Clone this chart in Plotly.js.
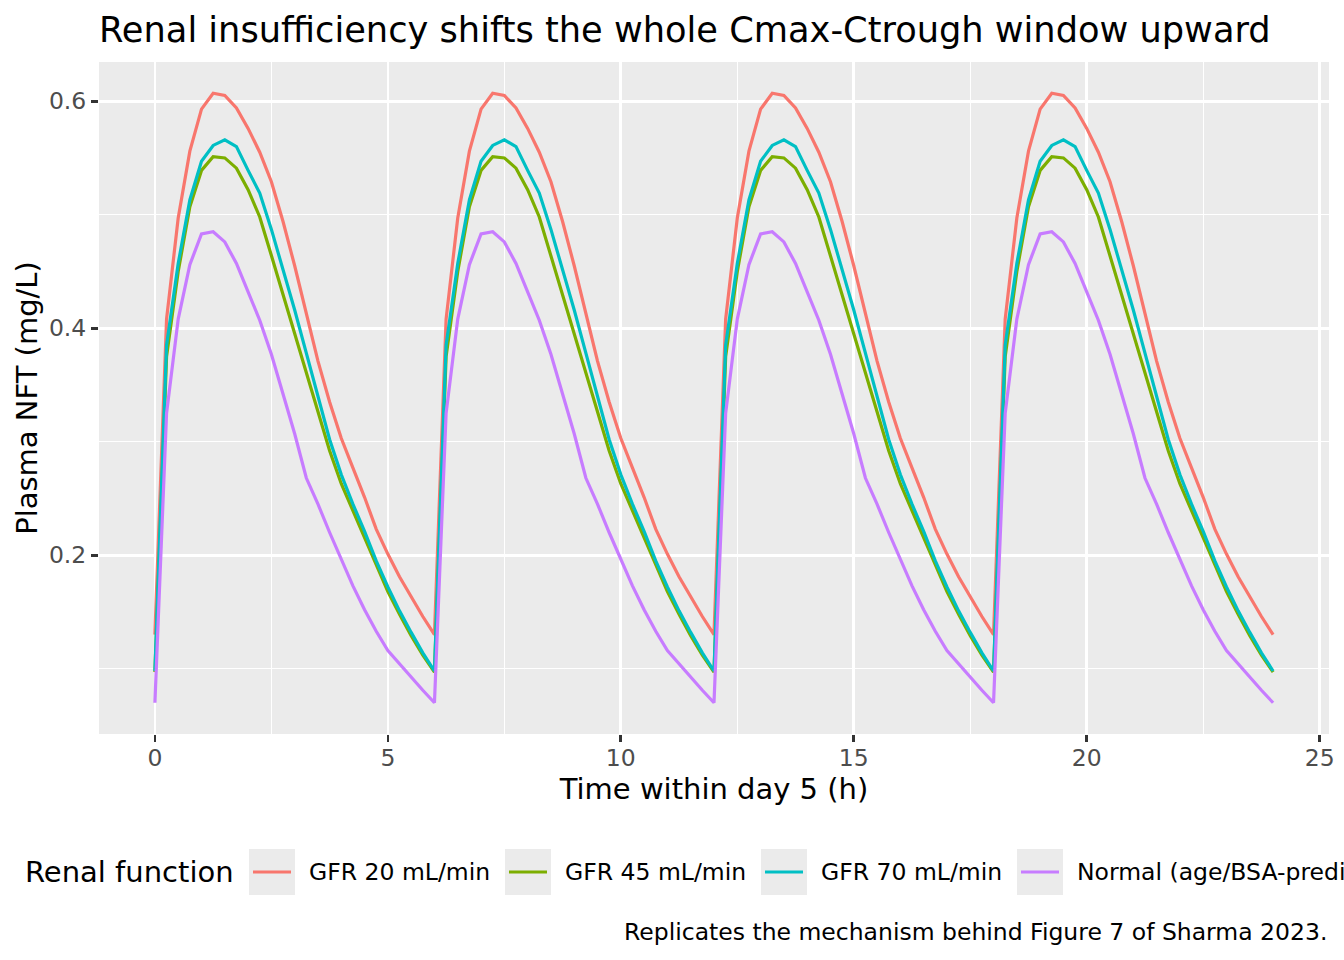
<!DOCTYPE html>
<html>
<head>
<meta charset="utf-8">
<script src="https://cdn.plot.ly/plotly-3.0.1.min.js"></script>
<style>
  html, body { margin: 0; padding: 0; background: #fff; overflow: hidden; }
  #chart { width: 1344px; height: 960px; }
</style>
</head>
<body>
<div id="chart"></div>
<script>
// one dosing interval (q6h), hours after dose
const hoursInDose = [0, 0.25, 0.5, 0.75, 1, 1.25, 1.5, 1.75, 2, 2.25, 2.5, 2.75,
                     3, 3.25, 3.5, 3.75, 4, 4.25, 4.5, 4.75, 5, 5.25, 5.5, 5.75];
const doseTimes = [0, 6, 12, 18];
const dayEnd = 24;

const seriesNames = ['GFR 20 mL/min', 'GFR 45 mL/min', 'GFR 70 mL/min', 'Normal (age/BSA-predicted)'];
const seriesColors = ['#F8766D', '#7CAE00', '#00BFC4', '#C77CFF'];

// plasma NFT (mg/L) over one interval (steady state, same each dose)
const gfr20 = [0.130, 0.408, 0.497, 0.556, 0.593, 0.607, 0.605, 0.594, 0.576, 0.555, 0.529, 0.494,
               0.455, 0.414, 0.371, 0.335, 0.303, 0.277, 0.251, 0.223, 0.201, 0.181, 0.163, 0.146];
const gfr45 = [0.097, 0.375, 0.450, 0.507, 0.539, 0.551, 0.550, 0.541, 0.522, 0.498, 0.464, 0.430,
               0.396, 0.361, 0.326, 0.292, 0.263, 0.239, 0.215, 0.192, 0.168, 0.148, 0.129, 0.112];
const gfr70 = [0.098, 0.385, 0.457, 0.513, 0.547, 0.561, 0.566, 0.560, 0.539, 0.519, 0.487, 0.452,
               0.416, 0.378, 0.340, 0.302, 0.271, 0.245, 0.221, 0.195, 0.172, 0.151, 0.132, 0.114];
const normal = [0.070, 0.325, 0.408, 0.456, 0.483, 0.485, 0.476, 0.457, 0.432, 0.407, 0.377, 0.342,
                0.307, 0.268, 0.245, 0.220, 0.196, 0.173, 0.152, 0.133, 0.116, 0.104, 0.092, 0.081];

const xTicks = [0, 5, 10, 15, 20, 25];
const yTicks = [0.2, 0.4, 0.6];

const FONT = 'DejaVu Sans, Verdana, sans-serif';

// lay one interval out over the four doses of day 5
function dayProfile(values) {
    const x = [], y = [];
    doseTimes.forEach(d => {
        hoursInDose.forEach((h, i) => { x.push(d + h); y.push(values[i]); });
    });
    x.push(dayEnd);
    y.push(values[0]);
    return { x, y };
}

const allSeries = [gfr20, gfr45, gfr70, normal];
const traces = allSeries.map((vals, i) => {
    const p = dayProfile(vals);
    return {
        x: p.x, y: p.y, type: 'scatter', mode: 'lines', name: seriesNames[i],
        line: { color: seriesColors[i], width: 3.2 },
        showlegend: false, hoverinfo: 'skip'
    };
});

// panel box in pixels
const W = 1344, H = 960;
const panel = { l: 99, r: 1329, t: 62, b: 734 };
const px2x = px => (px - panel.l) / (panel.r - panel.l);
const px2y = py => (panel.b - py) / (panel.b - panel.t);

// hand-built legend (one row, runs off the right edge like the original)
const shapes = [], annotations = [];
annotations.push({
    text: 'Renal function', xref: 'paper', yref: 'paper', x: px2x(23), y: px2y(872),
    xanchor: 'left', yanchor: 'middle', showarrow: false,
    font: { family: FONT, size: 29, color: '#000' }
});
const keyLeft = [249, 505, 761, 1017];
seriesNames.forEach((name, i) => {
    const k = keyLeft[i];
    shapes.push({
        type: 'rect', xref: 'paper', yref: 'paper',
        x0: px2x(k), x1: px2x(k + 46), y0: px2y(849), y1: px2y(895),
        fillcolor: '#EBEBEB', line: { width: 0 }
    });
    shapes.push({
        type: 'line', xref: 'paper', yref: 'paper',
        x0: px2x(k + 4), x1: px2x(k + 42), y0: px2y(872), y1: px2y(872),
        line: { color: seriesColors[i], width: 3.2 }
    });
    annotations.push({
        text: name, xref: 'paper', yref: 'paper', x: px2x(k + 58), y: px2y(872),
        xanchor: 'left', yanchor: 'middle', showarrow: false,
        font: { family: FONT, size: 23.5, color: '#000' }
    });
});
annotations.push({
    text: 'Replicates the mechanism behind Figure 7 of Sharma 2023.',
    xref: 'paper', yref: 'paper', x: px2x(1329), y: px2y(932),
    xanchor: 'right', yanchor: 'middle', showarrow: false,
    font: { family: FONT, size: 23.5, color: '#000' }
});

const axisCommon = {
    showline: false, zeroline: false,
    gridcolor: '#FFFFFF', gridwidth: 2.7,
    ticks: 'outside', ticklen: 7, tickwidth: 2.7, tickcolor: '#333333',
    tickfont: { family: FONT, size: 23.5, color: '#4D4D4D' },
    automargin: false
};

const layout = {
    width: W, height: H,
    paper_bgcolor: '#FFFFFF', plot_bgcolor: '#EBEBEB',
    margin: { l: panel.l, r: W - panel.r, t: panel.t, b: H - panel.b, pad: 0 },
    title: {
        text: 'Renal insufficiency shifts the whole Cmax-Ctrough window upward',
        font: { family: FONT, size: 35.2, color: '#000' },
        xref: 'paper', x: 0, xanchor: 'left',
        yref: 'container', y: 1 - 30 / H, yanchor: 'middle'
    },
    xaxis: Object.assign({}, axisCommon, {
        range: [-1.2, 25.2], tickvals: xTicks, ticklabelstandoff: -4,
        minor: { dtick: 2.5, tick0: 0, showgrid: true, gridcolor: '#FFFFFF', gridwidth: 1.35, ticks: '' },
        title: { text: 'Time within day 5 (h)', font: { family: FONT, size: 29, color: '#000' }, standoff: 6 }
    }),
    yaxis: Object.assign({}, axisCommon, {
        range: [0.0425, 0.6345], tickvals: yTicks,
        minor: { dtick: 0.1, tick0: 0, showgrid: true, gridcolor: '#FFFFFF', gridwidth: 1.35, ticks: '' },
        title: { text: 'Plasma NFT (mg/L)', font: { family: FONT, size: 29, color: '#000' }, standoff: 2 }
    }),
    shapes: shapes,
    annotations: annotations,
    showlegend: false
};

Plotly.newPlot('chart', traces, layout, { staticPlot: true, displayModeBar: false });
</script>
</body>
</html>
